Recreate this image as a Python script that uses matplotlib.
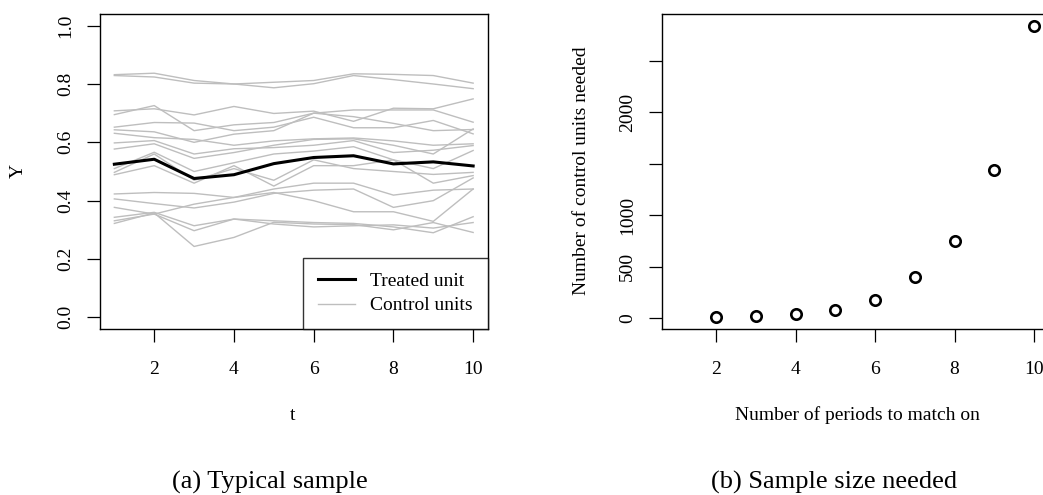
import numpy as np
import matplotlib
matplotlib.use("Agg")
from matplotlib import pyplot as plt

plt.rcParams['font.family'] = ['Liberation Serif', 'DejaVu Serif']

# ---- panel (a): one treated unit and the control units over t ----
t = np.arange(1, 11)
treated = [0.525, 0.542, 0.476, 0.489, 0.527, 0.548, 0.554, 0.526, 0.533, 0.519]
controls = [
    [0.832, 0.837, 0.812, 0.800, 0.806, 0.812, 0.835, 0.833, 0.829, 0.803],
    [0.829, 0.824, 0.803, 0.800, 0.787, 0.801, 0.829, 0.815, 0.800, 0.784],
    [0.708, 0.715, 0.694, 0.723, 0.699, 0.707, 0.672, 0.717, 0.715, 0.749],
    [0.695, 0.726, 0.640, 0.660, 0.668, 0.700, 0.711, 0.711, 0.711, 0.669],
    [0.652, 0.668, 0.666, 0.640, 0.652, 0.686, 0.650, 0.650, 0.675, 0.629],
    [0.643, 0.636, 0.600, 0.628, 0.640, 0.700, 0.688, 0.665, 0.640, 0.644],
    [0.631, 0.616, 0.610, 0.590, 0.605, 0.612, 0.615, 0.605, 0.590, 0.595],
    [0.598, 0.606, 0.560, 0.578, 0.582, 0.590, 0.606, 0.565, 0.573, 0.589],
    [0.577, 0.595, 0.545, 0.565, 0.590, 0.610, 0.612, 0.590, 0.560, 0.646],
    [0.510, 0.566, 0.500, 0.530, 0.560, 0.570, 0.585, 0.540, 0.510, 0.572],
    [0.497, 0.560, 0.470, 0.510, 0.470, 0.540, 0.510, 0.500, 0.490, 0.497],
    [0.489, 0.520, 0.460, 0.520, 0.450, 0.520, 0.520, 0.540, 0.460, 0.486],
    [0.423, 0.428, 0.425, 0.411, 0.440, 0.460, 0.460, 0.419, 0.436, 0.440],
    [0.406, 0.390, 0.375, 0.395, 0.425, 0.436, 0.440, 0.377, 0.400, 0.478],
    [0.377, 0.354, 0.388, 0.411, 0.428, 0.400, 0.362, 0.362, 0.329, 0.440],
    [0.343, 0.360, 0.314, 0.337, 0.331, 0.325, 0.322, 0.310, 0.290, 0.345],
    [0.331, 0.354, 0.297, 0.337, 0.320, 0.310, 0.314, 0.317, 0.306, 0.325],
    [0.322, 0.358, 0.243, 0.274, 0.326, 0.320, 0.318, 0.300, 0.325, 0.291],
]

# ---- panel (b): control units needed vs periods matched on ----
periods = np.arange(2, 11)
needed = [6, 19, 39, 81, 171, 395, 751, 1434, 2842]

W, H = 1043, 495
fig = plt.figure(figsize=(W / 100, H / 100), dpi=100)


def px_axes(x0, x1, y0, y1):
    return fig.add_axes([x0 / W, 1 - y1 / H, (x1 - x0) / W, (y1 - y0) / H])


def r_style(ax):
    for s in ax.spines.values():
        s.set_linewidth(1.0)
        s.set_color('black')
    ax.tick_params(direction='out', length=9.2, width=0.9, labelsize=14)
    ax.tick_params(axis='x', pad=13.5)
    ax.tick_params(axis='y', pad=9.5)
    for lab in ax.get_yticklabels():
        lab.set_rotation(90)
        lab.set_va('center')


ax1 = px_axes(100, 487.5, 14, 329)
for c in controls:
    ax1.plot(t, c, color='#bebebe', lw=1.0, label='_nolegend_')
ax1.plot([], [], color='black', lw=2.2, label='Treated unit')
ax1.plot([], [], color='#bebebe', lw=1.0, label='Control units')
ax1.plot(t, treated, color='black', lw=2.2, zorder=5)
ax1.set_xlim(0.64, 10.36)
ax1.set_ylim(-0.04, 1.04)
ax1.set_xticks([2, 4, 6, 8, 10])
ax1.set_yticks([0.0, 0.2, 0.4, 0.6, 0.8, 1.0])
ax1.set_yticklabels(['0.0', '0.2', '0.4', '0.6', '0.8', '1.0'])
r_style(ax1)
leg = ax1.legend(loc='lower right', fontsize=14, frameon=True, fancybox=False,
                 borderaxespad=0, handlelength=1.9, handletextpad=0.8,
                 labelspacing=0.36, borderpad=0.75)
leg.get_frame().set_edgecolor('black')
leg.get_frame().set_linewidth(1.0)

fig.text(293 / W, 1 - 415 / H, 't', ha='center', va='center', fontsize=14)
fig.text(18 / W, 1 - 171 / H, 'Y', ha='center', va='center', fontsize=14, rotation=90)

ax2 = px_axes(662.3, 1048.3, 14, 329)
ax2.plot(periods, needed, 'o', mfc='none', mec='black', mew=1.9, ms=7.5, clip_on=False)
ax2.set_xlim(0.64, 10.36)
rng = max(needed) - min(needed)
ax2.set_ylim(min(needed) - 0.04 * rng, max(needed) + 0.04 * rng)
ax2.set_xticks([2, 4, 6, 8, 10])
ax2.set_yticks([0, 500, 1000, 1500, 2000, 2500])
ax2.set_yticklabels(['0', '500', '1000', '', '2000', ''])
r_style(ax2)

fig.text(857 / W, 1 - 415 / H, 'Number of periods to match on', ha='center', va='center', fontsize=14)
fig.text(581 / W, 1 - 171 / H, 'Number of control units needed', ha='center', va='center',
         fontsize=14, rotation=90)

fig.text(270 / W, 1 - 482 / H, '(a) Typical sample', ha='center', va='center', fontsize=19)
fig.text(834 / W, 1 - 482 / H, '(b) Sample size needed', ha='center', va='center', fontsize=19)

fig.savefig('out.png', dpi=100)
